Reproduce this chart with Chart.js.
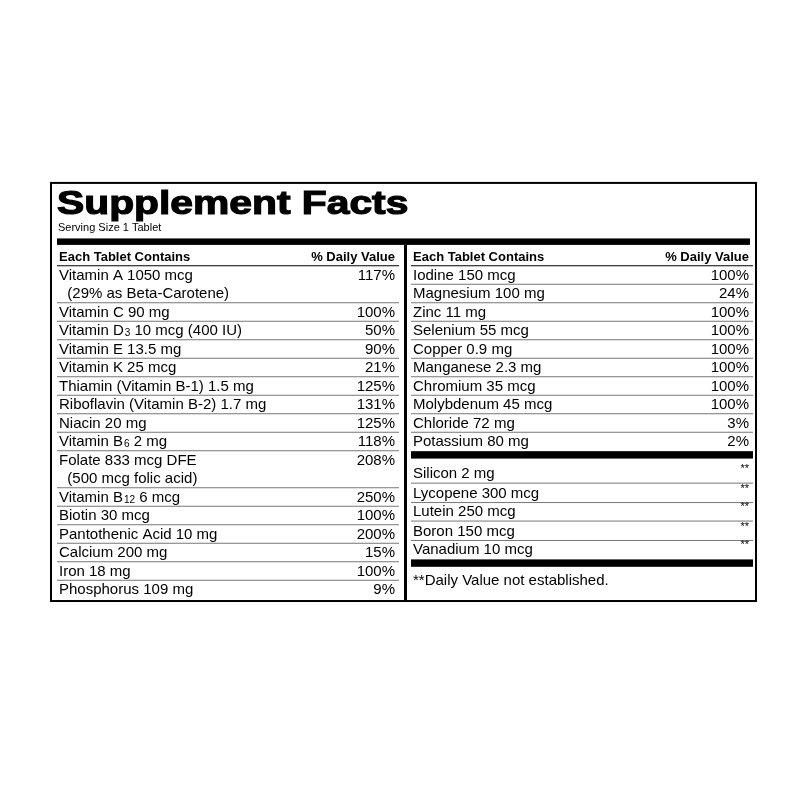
<!DOCTYPE html>
<html><head><meta charset="utf-8">
<script src="https://cdn.jsdelivr.net/npm/chart.js@4/dist/chart.umd.min.js"></script>
<style>html,body{margin:0;background:#fff}#wrap{width:800px;height:800px}</style>
</head><body><div id="wrap"><canvas id="c"></canvas></div>
<script>
const title = "Supplement Facts";
const serving = "Serving Size 1 Tablet";
const headers = ["Each Tablet Contains", "% Daily Value"];
const leftNames = [["Vitamin A 1050 mcg","  (29% as Beta-Carotene)"],["Vitamin C 90 mg"],["Vitamin D3 10 mcg (400 IU)"],["Vitamin E 13.5 mg"],["Vitamin K 25 mcg"],["Thiamin (Vitamin B-1) 1.5 mg"],["Riboflavin (Vitamin B-2) 1.7 mg"],["Niacin 20 mg"],["Vitamin B6 2 mg"],["Folate 833 mcg DFE","  (500 mcg folic acid)"],["Vitamin B12 6 mcg"],["Biotin 30 mcg"],["Pantothenic Acid 10 mg"],["Calcium 200 mg"],["Iron 18 mg"],["Phosphorus 109 mg"]];
const leftDV = ["117%","100%","50%","90%","21%","125%","131%","125%","118%","208%","250%","100%","200%","15%","100%","9%"];
const leftRows = [1,3,4,5,6,7,8,9,10,11,13,14,15,16,17,18];
const rightNames = ["Iodine 150 mcg","Magnesium 100 mg","Zinc 11 mg","Selenium 55 mcg","Copper 0.9 mg","Manganese 2.3 mg","Chromium 35 mcg","Molybdenum 45 mcg","Chloride 72 mg","Potassium 80 mg"];
const rightDV = ["100%","24%","100%","100%","100%","100%","100%","100%","3%","2%"];
const rightRows = [1,2,3,4,5,6,7,8,9,10];
const otherNames = ["Silicon 2 mg","Lycopene 300 mcg","Lutein 250 mcg","Boron 150 mcg","Vanadium 10 mcg"];
const otherDV = ["**","**","**","**","**"];
const otherRows = [11.75,12.8,13.8,14.85,15.85];
const footnote = "**Daily Value not established.";

const F = '"Liberation Sans", Arial, sans-serif';
const FS = '15px ';
const tablePlugin = {
  id:'table',
  afterDraw(chart){
    const ctx = chart.ctx, X = chart.scales.x, Y = chart.scales.y;
    const px = v => X.getPixelForValue(v), py = v => Y.getPixelForValue(v);
    ctx.save();
    ctx.fillStyle='#000'; ctx.strokeStyle='#000';
    ctx.lineWidth=2;
    ctx.strokeRect(px(51), py(-3.95), px(756)-px(51), py(18.65)-py(-3.95));
    ctx.textBaseline='alphabetic';
    ctx.save();
    ctx.translate(px(57), py(-2.25)); ctx.scale(1.2,1);
    ctx.font='900 34px '+F; ctx.textAlign='left';
    ctx.fillText(title, 0, 0); ctx.lineWidth=1.2; ctx.strokeText(title,0,0);
    ctx.restore();
    ctx.font='11px '+F; ctx.fillText(serving, px(58), py(-1.35));
    ctx.fillRect(px(57), py(-0.95), px(750)-px(57), py(-0.6)-py(-0.95));
    ctx.fillRect(px(404), py(-0.6), 3, py(18.65)-py(-0.6));
    const row = (name, dv, r, x0, x1, sepBelow) => {
      const lines = Array.isArray(name)?name:[name];
      ctx.font=FS+F; ctx.textAlign='left';
      lines.forEach((t,i)=>{
        const m = t.match(/^(Vitamin )(B|D)(\d+)( .*)$/);
        const y = py(r+i)+5;
        if(m){
          ctx.fillText(m[1]+m[2], px(x0), y);
          let w = ctx.measureText(m[1]+m[2]).width;
          ctx.font='10px '+F; ctx.fillText(m[3], px(x0)+w+1, y+1);
          let w2 = ctx.measureText(m[3]).width; ctx.font=FS+F;
          ctx.fillText(m[4], px(x0)+w+1+w2, y);
        } else ctx.fillText(t, px(x0), y);
      });
      ctx.textAlign='right';
      if(dv==='**'){ctx.font='11px '+F; ctx.fillText(dv, px(x1), py(r)-1);}
      else ctx.fillText(dv, px(x1), py(r)+5);
      if(sepBelow){
        const yb = py(r+lines.length-0.5);
        ctx.fillStyle='#777'; ctx.fillRect(px(x0-2), yb, px(x1+4)-px(x0-2), 1); ctx.fillStyle='#000';
      }
    };
    [[59,395],[413,749]].forEach(([a,b])=>{
      ctx.textAlign='left'; ctx.font='bold 13px '+F; ctx.fillText(headers[0], px(a), py(0)+5);
      ctx.textAlign='right'; ctx.fillText(headers[1], px(b), py(0)+5);
      ctx.fillRect(px(a-2), py(0.5), px(b+4)-px(a-2), 1);
    });
    leftNames.forEach((n,i)=>row(n,leftDV[i],leftRows[i],59,395,i<leftNames.length-1));
    rightNames.forEach((n,i)=>row(n,rightDV[i],rightRows[i],413,749,i<rightNames.length-1));
    ctx.fillRect(px(411), py(10.55), px(753)-px(411), py(10.95)-py(10.55));
    otherNames.forEach((n,i)=>row(n,otherDV[i],otherRows[i],413,749,i<otherNames.length-1));
    ctx.fillRect(px(411), py(16.4), px(753)-px(411), py(16.8)-py(16.4));
    ctx.font=FS+F; ctx.textAlign='left';
    ctx.fillText(footnote, px(413), py(17.5)+5);
    ctx.restore();
  }
};
new Chart(document.getElementById('c'), {
  type:'scatter',
  data:{datasets:[{data:[],pointRadius:0}]},
  options:{
    responsive:true, maintainAspectRatio:false, animation:false,
    layout:{padding:0},
    plugins:{legend:{display:false},tooltip:{enabled:false}},
    scales:{
      x:{type:'linear',min:0,max:800,display:false},
      y:{type:'linear',min:-256/18.5,max:544/18.5,reverse:true,display:false}
    }
  },
  plugins:[tablePlugin]
});
</script></body></html>
